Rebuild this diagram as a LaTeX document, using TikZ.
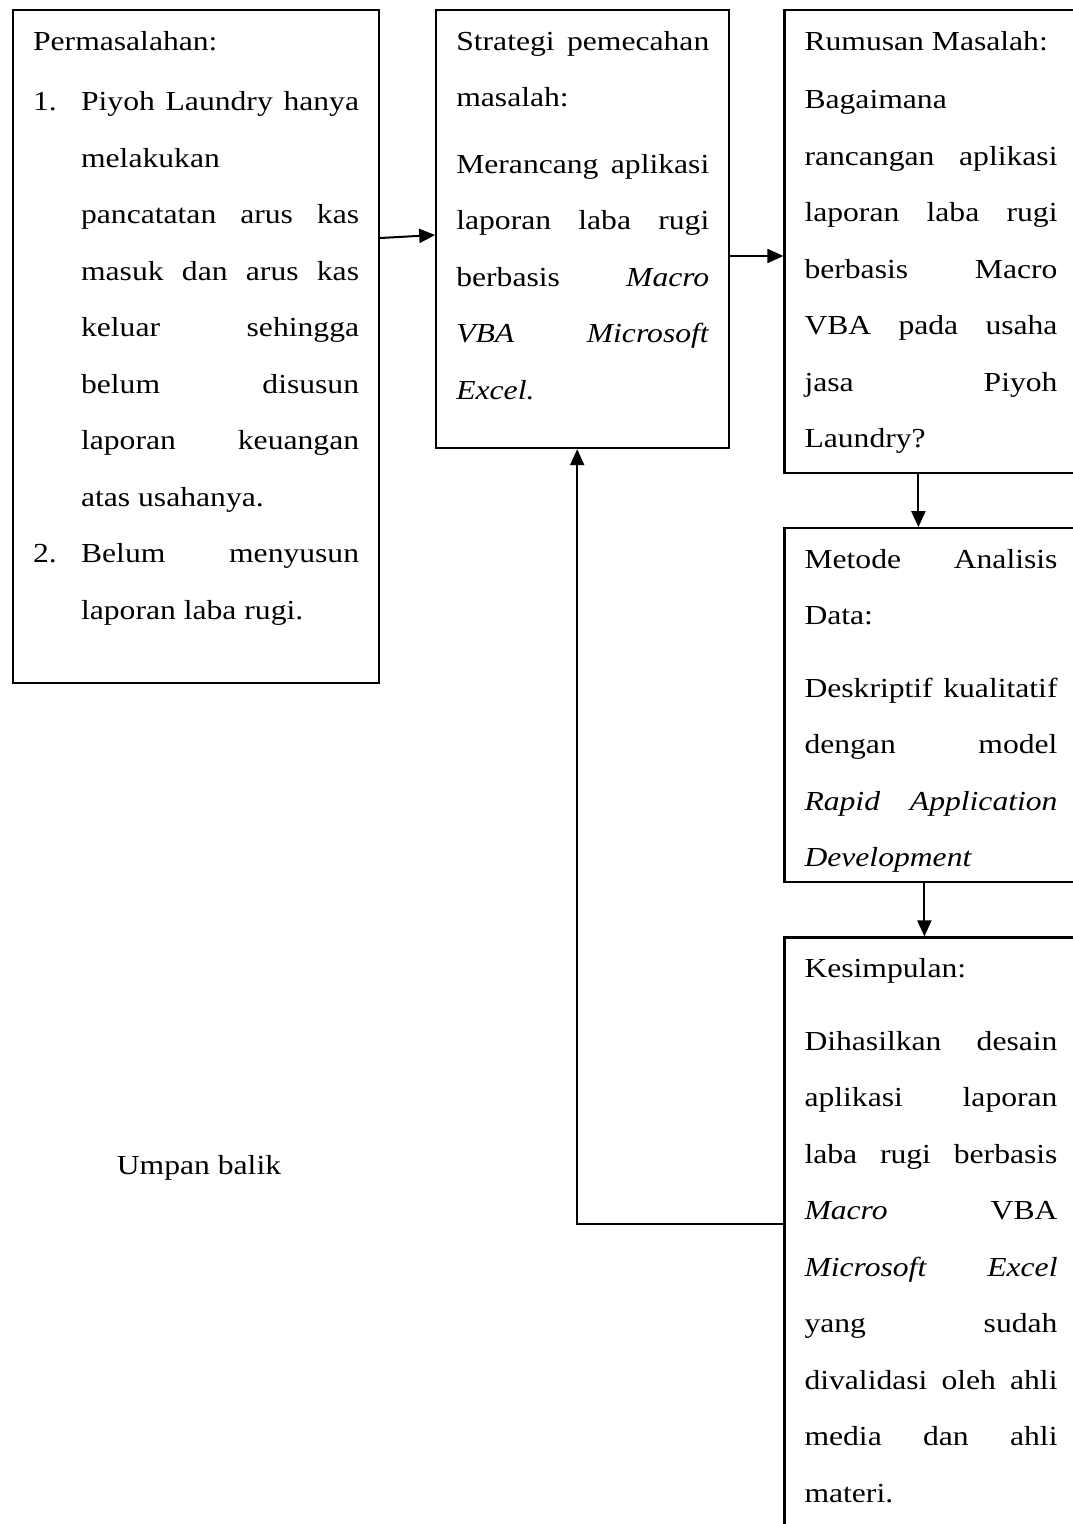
\documentclass[tikz,border=0pt]{standalone}
\usepackage{fontspec}
\setmainfont{Liberation Serif}[FakeStretch=1.15]
\usepackage{tikz}
\usetikzlibrary{arrows.meta,positioning,calc}
\hyphenpenalty=10000
\exhyphenpenalty=10000
\newcommand{\isi}[3]{\parbox[t][#1][t]{#2}{\tolerance=10000\hbadness=10000\rule{0pt}{20pt}#3}}

\begin{document}
\begin{tikzpicture}[x=0.5pt,y=-0.5pt,
 node distance=26.5pt,
 box/.style={draw,line width=1.1pt,anchor=north west,inner xsep=10pt,inner ysep=0pt,font=\fontsize{13.75}{28.25}\selectfont},
 arr/.style={-{Triangle[length=8pt,width=7pt]},line width=1pt}]
\useasboundingbox (0,0) rectangle (1072,1524);
\node[box] (masalah) at (12,9) {\isi{336.5pt}{163pt}{Permasalahan:\par\vspace{2pt}
 \hangindent=24pt\hangafter=0\noindent\llap{\makebox[24pt][l]{1.}}Piyoh Laundry hanya\linebreak melakukan\linebreak pancatatan arus kas\linebreak masuk dan arus kas\linebreak keluar sehingga\linebreak belum disusun\linebreak laporan keuangan\linebreak atas usahanya.\par
 \hangindent=24pt\hangafter=0\noindent\llap{\makebox[24pt][l]{2.}}Belum menyusun\linebreak laporan laba rugi.\par}};
\node[box,below right=0pt and 27.5pt of masalah.north east] (strategi) {\isi{219pt}{126.5pt}{Strategi pemecahan\linebreak masalah:\par\vspace{5pt}
 Merancang aplikasi\linebreak laporan laba rugi\linebreak berbasis \textit{Macro}\linebreak \textit{VBA Microsoft}\linebreak \textit{Excel.}}};
\node[box,below right=0pt and 26.5pt of strategi.north east] (rumusan) {\isi{231.5pt}{126.5pt}{Rumusan Masalah:\par\vspace{1pt}
 Bagaimana\linebreak rancangan aplikasi\linebreak laporan laba rugi\linebreak berbasis Macro\linebreak VBA pada usaha\linebreak jasa Piyoh\linebreak Laundry?}};
\node[box,below=of rumusan] (metode) {\isi{177pt}{126.5pt}{Metode Analisis\linebreak Data:\par\vspace{8pt}
 Deskriptif kualitatif\linebreak dengan model\linebreak \textit{Rapid Application}\linebreak \textit{Development}}};
\node[box,below=of metode] (simpulan) {\isi{320pt}{126.5pt}{Kesimpulan:\par\vspace{8pt}
 Dihasilkan desain\linebreak aplikasi laporan\linebreak laba rugi berbasis\linebreak \textit{Macro} VBA\linebreak \textit{Microsoft Excel}\linebreak yang sudah\linebreak divalidasi oleh ahli\linebreak media dan ahli\linebreak materi.}};
\node[font=\fontsize{13.75}{28.25}\selectfont] (umpan) at (199,1168) {Umpan balik};
% connectors
\draw[arr] ($(masalah.north east)+(0,229)$) -- ($(strategi.north west)+(0,226)$);
\draw[arr] ($(strategi.north east)+(0,247)$) -- ($(rumusan.north west)+(0,247)$);
\draw[arr] ($(rumusan.south west)+(135,0)$) -- ($(metode.north west)+(135,0)$);
\draw[arr] ($(metode.south west)+(141,0)$) -- ($(simpulan.north west)+(141,0)$);
\draw[arr] ($(simpulan.north west)+(0,288)$) -| ($(strategi.south west)+(142,0)$);
\end{tikzpicture}
\end{document}
